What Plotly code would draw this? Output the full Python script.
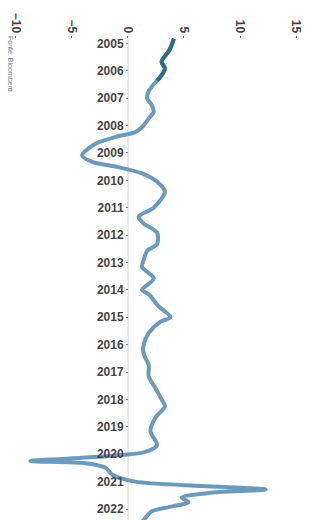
import plotly.graph_objects as go

dates = ["2004-11-01","2005-04-01","2005-09-01","2005-12-01","2006-03-01","2006-05-15",
         "2006-07-01","2006-10-01","2007-01-01","2007-04-01","2007-07-01","2007-10-01",
         "2008-02-01","2008-04-01","2008-06-01","2008-09-01","2009-02-01","2009-05-01",
         "2009-07-01","2009-10-01","2010-02-01","2010-06-01","2011-01-01","2011-05-01",
         "2011-08-01","2011-12-01","2012-05-01","2012-08-01","2012-12-01","2013-03-01",
         "2013-08-01","2014-01-01","2014-03-01","2014-08-01","2015-01-01","2015-03-01",
         "2015-08-01","2016-01-01","2016-05-01","2016-10-01","2017-03-01","2017-08-01",
         "2018-01-01","2018-04-01","2018-09-01","2019-03-01","2019-09-01","2019-12-01",
         "2020-02-01","2020-04-01","2020-05-01","2020-07-01","2020-10-01","2021-01-01",
         "2021-03-01","2021-04-15","2021-06-01","2021-08-01","2021-10-01","2022-02-01",
         "2022-05-01","2022-08-01"]
values = [4.1,3.7,3.0,3.3,3.0,2.6,
          2.3,1.85,1.7,2.1,2.3,1.85,
          1.2,0.6,-1.1,-2.9,-4.1,-3.2,
          -1.1,1.25,2.7,3.3,2.3,0.95,
          1.4,2.6,2.6,1.7,1.4,1.25,
          2.3,1.25,1.85,2.7,3.8,2.9,
          1.85,1.4,1.4,1.85,1.85,2.45,
          3.0,3.3,2.45,2.0,2.6,1.55,
          -2.3,-8.7,-3.8,-2.0,-1.4,0.65,
          6.6,12.3,7.2,4.8,5.4,2.1,
          1.55,1.0]
dark_end = 6  # first points drawn in the darker shade

value_ticks = [-10, -5, 0, 5, 10, 15]
source_text = "Fonte: Bloomberg"

x_range = [-10.71, 17.23]
fig = go.Figure()
fig.add_trace(go.Scatter(x=values, y=dates, mode="lines", line=dict(color="#6a9bbd", width=4, shape="spline", smoothing=0.8), hoverinfo="skip"))
fig.add_trace(go.Scatter(x=values[:dark_end], y=dates[:dark_end], mode="lines", line=dict(color="#2f6a8e", width=4, shape="spline", smoothing=0.8), hoverinfo="skip"))

fig.update_layout(
    width=313, height=520, showlegend=False,
    margin=dict(l=0, r=0, t=28, b=0, autoexpand=False),
    paper_bgcolor="white", plot_bgcolor="white",
    font=dict(family="Liberation Sans, Arial, sans-serif"),
    xaxis=dict(range=x_range, side="top", tickvals=value_ticks, tickangle=90,
               showgrid=False, zeroline=True, zerolinecolor="#ececec", zerolinewidth=2,
               ticks="inside", ticklen=2, tickcolor="#777", automargin=False,
               tickfont=dict(size=12, color="#444", weight="bold")),
    yaxis=dict(type="date", range=["2022-09-11", "2004-09-25"], autorange=False,
               anchor="free", position=(0 - x_range[0]) / (x_range[1] - x_range[0]),
               dtick="M12", tick0="2005-01-01", tickformat="%Y", automargin=False,
               showgrid=False, zeroline=False, showline=False,
               ticks="outside", ticklen=2, tickcolor="#777",
               tickfont=dict(size=12, color="#444", weight="bold")),
)
fig.add_annotation(text=source_text, xref="paper", yref="paper", x=0.0, y=1.0,
                   xanchor="left", yanchor="top", textangle=90, showarrow=False,
                   xshift=-4, yshift=2, font=dict(size=7, color="#777"))
fig.write_html("out.html")
